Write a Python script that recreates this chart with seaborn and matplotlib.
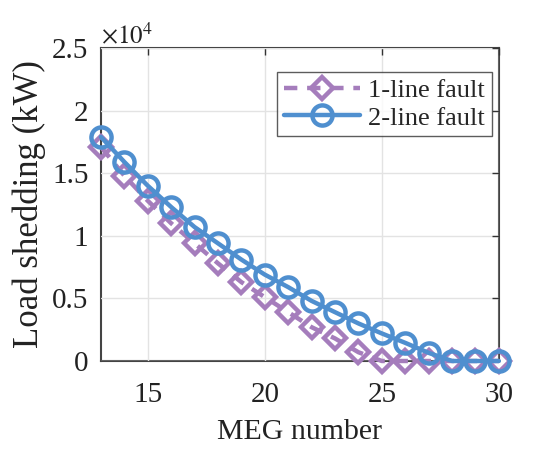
import matplotlib
matplotlib.use("Agg")
import matplotlib.pyplot as plt
import seaborn as sns
import pandas as pd
from matplotlib.ticker import FuncFormatter, FixedLocator

meg = [13, 14, 15, 16, 17, 18, 19, 20, 21, 22, 23, 24, 25, 26, 27, 28, 29, 30]
one_line = [17100, 14800, 12800, 11000, 9400, 7800, 6300, 5100, 3900, 2700, 1800, 700, 0, 0, 0, 0, 0, 0]
two_line = [17900, 15900, 14000, 12300, 10700, 9400, 8100, 6900, 5900, 4800, 3900, 3000, 2200, 1450, 650, 0, 0, 0]
series_names = ["1-line fault", "2-line fault"]
y_ticks = [0, 5000, 10000, 15000, 20000, 25000]
x_ticks = [15, 20, 25, 30]

sns.set_style("white")
plt.rcParams["font.family"] = ["Liberation Serif", "DejaVu Serif"]
plt.rcParams["mathtext.fontset"] = "stix"

purple = "#A57DBC"
blue = "#4F8FCF"

fig = plt.figure(figsize=(5.37, 4.49), dpi=100)
ax = fig.add_axes([0.188, 0.196, 0.741, 0.697])

df1 = pd.DataFrame({"x": meg, "y": one_line})
df2 = pd.DataFrame({"x": meg, "y": two_line})
sns.lineplot(data=df1, x="x", y="y", ax=ax, color=purple, linewidth=3.2,
             linestyle=(0, (3, 2.2)), marker="D", markersize=11.5,
             markerfacecolor="none", markeredgecolor=purple, markeredgewidth=3.2,
             label=series_names[0], clip_on=False)
sns.lineplot(data=df2, x="x", y="y", ax=ax, color=blue, linewidth=3.2,
             marker="o", markersize=14.5, markerfacecolor="none",
             markeredgecolor=blue, markeredgewidth=3.2, label=series_names[1],
             clip_on=False)

ax.set_xlim(13, 30)
ax.set_ylim(0, 25000)
ax.xaxis.set_major_locator(FixedLocator(x_ticks))
ax.yaxis.set_major_locator(FixedLocator(y_ticks))
ax.yaxis.set_major_formatter(FuncFormatter(lambda v, p: "%g" % (v / 1e4)))
ax.grid(True, color="#E3E3E3", linewidth=1)
ax.set_axisbelow(True)
for s in ax.spines.values():
    s.set_visible(True)
    s.set_color("#444444")
    s.set_linewidth(1.5)
    s.set_zorder(0.5)
ax.tick_params(direction="in", length=5, width=1, colors="#333333",
               labelsize=21, top=True, right=True)
ax.tick_params(axis="x", pad=15)
ax.tick_params(axis="y", pad=9)
for lab in ax.get_xticklabels() + ax.get_yticklabels():
    lab.set_color("#222222")
ax.set_xlabel("MEG number", fontsize=21.5, color="#222222", labelpad=8)
ax.set_ylabel("Load shedding (kW)", fontsize=25, color="#222222", labelpad=4)
ax.text(0.0, 1.0, r"$\times10^4$", transform=ax.transAxes, fontsize=18,
        color="#222222", ha="left", va="bottom")

leg = ax.legend(loc="upper right", bbox_to_anchor=(0.995, 0.94), fontsize=19,
                frameon=True, fancybox=False, handlelength=2.9,
                handletextpad=0.3, borderpad=0.25, labelspacing=0.15,
                borderaxespad=0.2)
leg.get_frame().set_edgecolor("#333333")
leg.get_frame().set_linewidth(1)

fig.savefig("out.png", dpi=100)
